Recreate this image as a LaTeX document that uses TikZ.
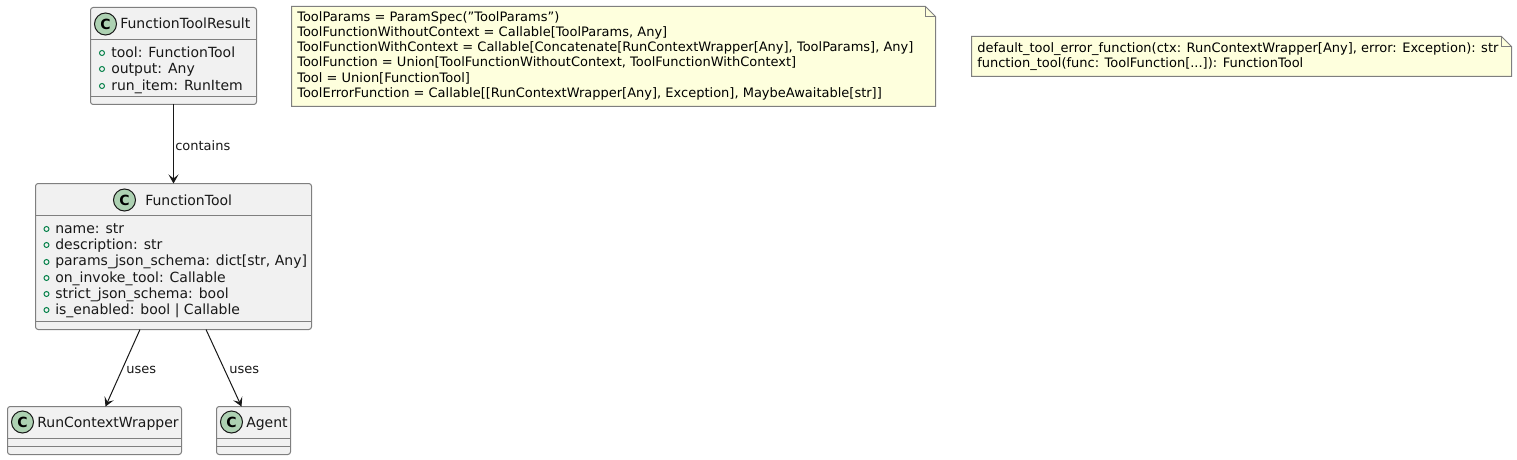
\documentclass[tikz,border=0pt]{standalone}
\usepackage{fontspec}
\setmainfont{DejaVu Sans}
\usetikzlibrary{arrows.meta}
\definecolor{boxfill}{HTML}{F1F1F1}
\definecolor{boxline}{HTML}{7F7F7F}
\definecolor{notefill}{HTML}{FEFFDD}
\definecolor{ink}{HTML}{181818}
\definecolor{spotfill}{HTML}{ADD1B2}
\definecolor{pubgreen}{HTML}{038048}
\tikzset{
  x=0.75pt,y=-0.75pt,
  classbox/.style={draw=boxline,fill=boxfill,line width=0.75pt,rounded corners=2pt},
  sepline/.style={draw=boxline,line width=0.75pt},
  notebox/.style={draw=boxline,fill=notefill,line width=0.75pt},
  spot/.style={circle,draw=ink,fill=spotfill,line width=0.75pt,minimum size=16.5pt,inner sep=0pt,font=\fontsize{10.5}{12}\selectfont\bfseries},
  pub/.style={circle,draw=pubgreen,line width=0.75pt,minimum size=3.75pt,inner sep=0pt},
  classtitle/.style={anchor=base west,inner sep=0pt,text=ink,font=\fontsize{10.5}{12}\selectfont},
  member/.style={anchor=base west,inner sep=0pt,text=ink,font=\fontsize{10.5}{12}\selectfont},
  notetext/.style={anchor=base west,inner sep=0pt,text=black,font=\fontsize{9.75}{11}\selectfont},
  edgelabel/.style={anchor=base west,inner sep=0pt,text=ink,font=\fontsize{9.75}{11}\selectfont},
  conn/.style={draw=ink,line width=0.75pt,-{Stealth[length=6.75pt,width=7.5pt,inset=3pt]}},
}
\newcommand{\classframe}[7]{% name x1 y1 x2 y2 sep1 sep2
  \path[classbox] (#2,#3) rectangle (#4,#5);
  \draw[sepline] (#2,#6) -- (#4,#6);
  \draw[sepline] (#2,#7) -- (#4,#7);
  \coordinate (#1) at (#2,#3);
}
\newcommand{\notefr}[5]{% name x1 y1 x2 y2
  \path[notebox] (#2,#3) -- (#4-10,#3) -- (#4,#3+10) -- (#4,#5) -- (#2,#5) -- cycle;
  \draw[boxline,line width=0.75pt] (#4-10,#3) -- (#4-10,#3+10) -- (#4,#3+10);
  \coordinate (#1) at (#2,#3);
}
\begin{document}
\begin{tikzpicture}
\useasboundingbox (0,0) rectangle (1517,460);
% FunctionToolResult
\classframe{ftrframe}{90.5}{7.5}{256.5}{104.5}{39.5}{96.5}
\node[spot] (ftrspot) at (105.5,24) {C};
\node[classtitle] (ftrtitle) at (120,29) {FunctionToolResult};
\node[pub] (ftrp1) at (102,53) {};
\node[pub] (ftrp2) at (102,69) {};
\node[pub] (ftrp3) at (102,86) {};
\node[member] (ftrm1) at (111,58) {tool: FunctionTool};
\node[member] (ftrm2) at (111,74) {output: Any};
\node[member] (ftrm3) at (111,90) {run\_item: RunItem};
% FunctionTool
\classframe{ftframe}{35.5}{183.5}{311.5}{329.5}{215.5}{321.5}
\node[spot] (ftspot) at (124.5,200) {C};
\node[classtitle] (fttitle) at (145,205) {FunctionTool};
\node[pub] (ftp1) at (46.5,229) {};
\node[pub] (ftp2) at (46.5,245) {};
\node[pub] (ftp3) at (46.5,262) {};
\node[pub] (ftp4) at (46.5,278) {};
\node[pub] (ftp5) at (46.5,294) {};
\node[pub] (ftp6) at (46.5,310) {};
\node[member] (ftm1) at (55,233) {name: str};
\node[member] (ftm2) at (55,249) {description: str};
\node[member] (ftm3) at (55,265.5) {params\_json\_schema: dict[str, Any]};
\node[member] (ftm4) at (55,282) {on\_invoke\_tool: Callable};
\node[member] (ftm5) at (55,298) {strict\_json\_schema: bool};
\node[member] (ftm6) at (55,314.5) {is\_enabled: bool | Callable};
% RunContextWrapper
\classframe{rcwframe}{7.5}{406.5}{181.5}{454.5}{438.5}{446.5}
\node[spot] (rcwspot) at (22.5,422) {C};
\node[classtitle] (rcwtitle) at (37,427) {RunContextWrapper};
% Agent
\classframe{agframe}{216.5}{406.5}{290.5}{454.5}{438.5}{446.5}
\node[spot] (agspot) at (231.5,422) {C};
\node[classtitle] (agtitle) at (246,427) {Agent};
% Notes
\notefr{noteone}{291.5}{6.5}{935.5}{106.5}
\node[notetext] (n11) at (297,22) {ToolParams = ParamSpec("ToolParams")};
\node[notetext] (n12) at (297,37) {ToolFunctionWithoutContext = Callable[ToolParams, Any]};
\node[notetext] (n13) at (297,52) {ToolFunctionWithContext = Callable[Concatenate[RunContextWrapper[Any], ToolParams], Any]};
\node[notetext] (n14) at (297,67) {ToolFunction = Union[ToolFunctionWithoutContext, ToolFunctionWithContext]};
\node[notetext] (n15) at (297,83) {Tool = Union[FunctionTool]};
\node[notetext] (n16) at (297,98) {ToolErrorFunction = Callable[[RunContextWrapper[Any], Exception], MaybeAwaitable[str]]};
\notefr{notetwo}{971.5}{36.5}{1511.5}{76.5}
\node[notetext] (n21) at (977,53) {default\_tool\_error\_function(ctx: RunContextWrapper[Any], error: Exception): str};
\node[notetext] (n22) at (977,68) {function\_tool(func: ToolFunction[...]): FunctionTool};
% Connector ends
\coordinate (a1) at (173.5,104.5);
\coordinate (a2) at (173.5,183.5);
\coordinate (b1) at (140,329.5);
\coordinate (b2) at (105.5,406.5);
\coordinate (c1) at (206,329.5);
\coordinate (c2) at (241.5,406.5);
\draw[conn] (a1) -- (a2);
\draw[conn] (b1) -- (b2);
\draw[conn] (c1) -- (c2);
\node[edgelabel] (l1) at (175,150) {contains};
\node[edgelabel] (l2) at (126,373) {uses};
\node[edgelabel] (l3) at (229,373) {uses};
\end{tikzpicture}
\end{document}
